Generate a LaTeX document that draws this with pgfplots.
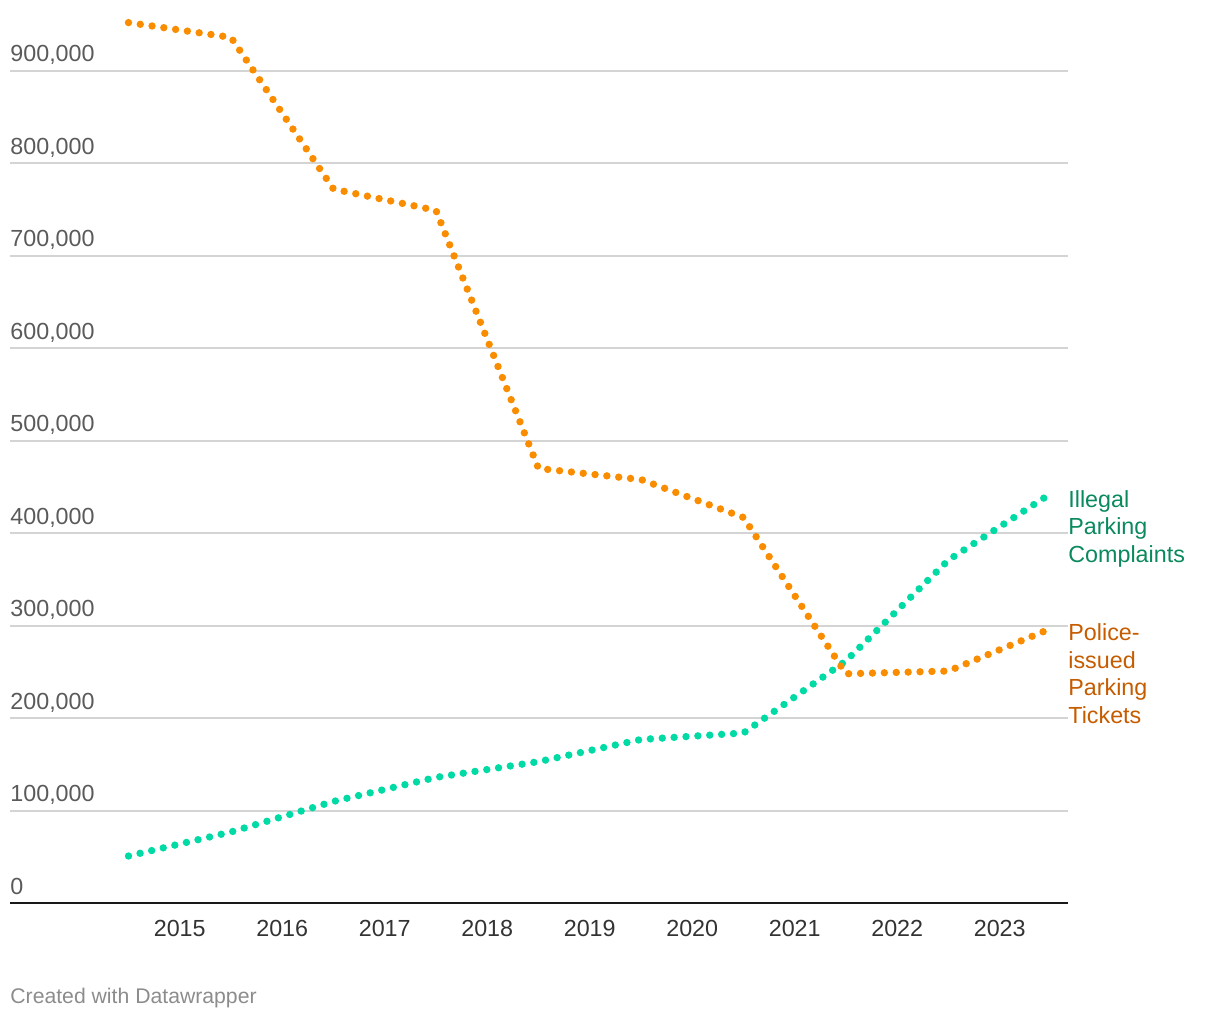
\documentclass[border=0pt]{standalone}
\usepackage{pgfplots}
\pgfplotsset{compat=1.18}
\usepackage{fontspec}
\setmainfont{Liberation Sans}
\definecolor{dwOrange}{HTML}{FA8C00}
\definecolor{dwGreen}{HTML}{00DAA5}
\definecolor{txtGreen}{HTML}{0A8A5C}
\definecolor{txtOrange}{HTML}{C65C00}
\definecolor{gridgray}{HTML}{D4D4D4}
\definecolor{ylab}{HTML}{5A5A5A}
\definecolor{xlab}{HTML}{333333}
\definecolor{credit}{HTML}{8C8C8C}
\newcommand{\lblfont}{\fontsize{11.65pt}{13pt}\selectfont}
\begin{document}
\begin{tikzpicture}
\path[use as bounding box] (0,0) rectangle (610pt,510pt);
\begin{axis}[
  at={(5pt,58.4pt)}, anchor=south west,
  scale only axis, width=529pt, height=439.375pt,
  xmin=2013.344, xmax=2023.666, ymin=0, ymax=950000,
  clip=false,
  axis line style={draw=none},
  major tick length=0pt,
  xtick={2015,2016,2017,2018,2019,2020,2021,2022,2023},
  xticklabels={2015,2016,2017,2018,2019,2020,2021,2022,2023},
  ytick={0,100000,200000,300000,400000,500000,600000,700000,800000,900000},
  yticklabels={0,{100,000},{200,000},{300,000},{400,000},{500,000},{600,000},{700,000},{800,000},{900,000}},
  scaled y ticks=false,
  yticklabel style={anchor=base west, inner sep=0pt, yshift=4.5pt, font=\lblfont, text=ylab},
  xticklabel style={anchor=base, inner sep=0pt, yshift=-16.9pt, font=\lblfont, text=xlab},
  ymajorgrids, grid style={gridgray, line width=0.85pt},
]
\addplot[dwGreen, line width=3.7pt, dash pattern=on 0pt off 5.95pt, line cap=round, line join=round] coordinates {
(2014.5,51000)(2015.5,77000)(2016.5,110000)(2017.5,136000)(2018.5,153000)(2019.5,177000)(2020.5,184000)(2021.5,262000)(2022.5,371000)(2023.5,443000)};
\addplot[dwOrange, line width=3.7pt, dash pattern=on 0pt off 5.95pt, line cap=round, line join=round] coordinates {
(2014.5,952000)(2015.5,936000)(2016.5,772000)(2017.5,749000)(2018.5,470000)(2019.5,458000)(2020.5,417000)(2021.5,248000)(2022.5,251000)(2023.5,297000)};
\draw[black!90, line width=1pt] (axis cs:2013.344,0) -- (axis cs:2023.666,0);
\end{axis}
\begin{scope}[every node/.style={anchor=base west, inner sep=0pt, font=\lblfont}]
\node[text=txtGreen] at (534pt,256.35pt) {Illegal};
\node[text=txtGreen] at (534pt,242.5pt) {Parking};
\node[text=txtGreen] at (534pt,228.65pt) {Complaints};
\node[text=txtOrange] at (534pt,189.65pt) {Police-};
\node[text=txtOrange] at (534pt,175.85pt) {issued};
\node[text=txtOrange] at (534pt,162pt) {Parking};
\node[text=txtOrange] at (534pt,148.35pt) {Tickets};
\node[text=credit, font=\fontsize{10.6pt}{12pt}\selectfont] at (5pt,8pt) {Created with Datawrapper};
\end{scope}
\end{tikzpicture}
\end{document}
